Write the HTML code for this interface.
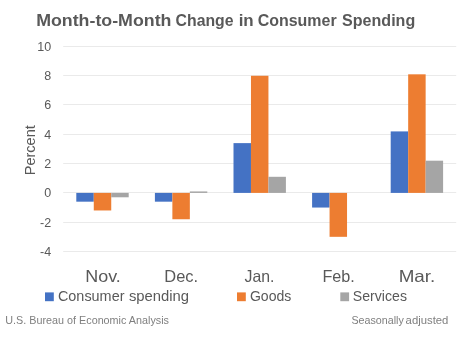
<!DOCTYPE html>
<html><head><meta charset="utf-8"><style>
html,body{margin:0;padding:0;background:#fff;}
svg{display:block;}
text{font-family:"Liberation Sans",sans-serif;}
</style></head><body>
<svg width="458" height="344" viewBox="0 0 458 344">
<rect width="458" height="344" fill="#fff"/>
<rect x="63.20" y="46" width="393.00" height="1" fill="#EAEAEA"/>
<rect x="63.20" y="75" width="393.00" height="1" fill="#EAEAEA"/>
<rect x="63.20" y="104" width="393.00" height="1" fill="#EAEAEA"/>
<rect x="63.20" y="134" width="393.00" height="1" fill="#EAEAEA"/>
<rect x="63.20" y="163" width="393.00" height="1" fill="#EAEAEA"/>
<rect x="63.20" y="192" width="393.00" height="1" fill="#EAEAEA"/>
<rect x="63.20" y="222" width="393.00" height="1" fill="#EAEAEA"/>
<rect x="63.20" y="251" width="393.00" height="1" fill="#EAEAEA"/>

<rect x="76.30" y="192.90" width="17.47" height="8.78" fill="#4472C4"/>
<rect x="93.77" y="192.90" width="17.47" height="17.57" fill="#ED7D31"/>
<rect x="111.23" y="192.90" width="17.47" height="4.39" fill="#A5A5A5"/>
<rect x="154.90" y="192.90" width="17.47" height="8.78" fill="#4472C4"/>
<rect x="172.37" y="192.90" width="17.47" height="26.35" fill="#ED7D31"/>
<rect x="189.83" y="191.44" width="17.47" height="1.46" fill="#A5A5A5"/>
<rect x="233.50" y="143.12" width="17.47" height="49.78" fill="#4472C4"/>
<rect x="250.97" y="75.78" width="17.47" height="117.12" fill="#ED7D31"/>
<rect x="268.43" y="176.80" width="17.47" height="16.10" fill="#A5A5A5"/>
<rect x="312.10" y="192.90" width="17.47" height="14.64" fill="#4472C4"/>
<rect x="329.57" y="192.90" width="17.47" height="43.92" fill="#ED7D31"/>
<rect x="390.70" y="131.41" width="17.47" height="61.49" fill="#4472C4"/>
<rect x="408.17" y="74.32" width="17.47" height="118.58" fill="#ED7D31"/>
<rect x="425.63" y="160.69" width="17.47" height="32.21" fill="#A5A5A5"/>
<rect x="45" y="292.4" width="8.8" height="8.8" fill="#4472C4"/>
<rect x="237" y="292.4" width="8.8" height="8.8" fill="#ED7D31"/>
<rect x="340.3" y="292.4" width="8.8" height="8.8" fill="#A5A5A5"/>
<g style="filter:grayscale(1)">
<g transform="translate(0,0)">
<text x="36.15" y="26.00" font-size="17" fill="#595959" textLength="135.28" lengthAdjust="spacingAndGlyphs" font-weight="bold">Month-to-Month</text>
<text x="175.58" y="26.00" font-size="17" fill="#595959" textLength="57.94" lengthAdjust="spacingAndGlyphs" font-weight="bold">Change</text>
<text x="238.65" y="26.00" font-size="17" fill="#595959" textLength="15.05" lengthAdjust="spacingAndGlyphs" font-weight="bold">in</text>
<text x="257.72" y="26.00" font-size="17" fill="#595959" textLength="78.91" lengthAdjust="spacingAndGlyphs" font-weight="bold">Consumer</text>
<text x="342.08" y="26.00" font-size="17" fill="#595959" textLength="73.16" lengthAdjust="spacingAndGlyphs" font-weight="bold">Spending</text>
</g>
<text x="51.1" y="50.80" font-size="12.5" fill="#595959" text-anchor="end">10</text>
<text x="51.1" y="79.80" font-size="12.5" fill="#595959" text-anchor="end">8</text>
<text x="51.1" y="108.80" font-size="12.5" fill="#595959" text-anchor="end">6</text>
<text x="51.1" y="138.80" font-size="12.5" fill="#595959" text-anchor="end">4</text>
<text x="51.1" y="167.80" font-size="12.5" fill="#595959" text-anchor="end">2</text>
<text x="51.1" y="196.80" font-size="12.5" fill="#595959" text-anchor="end">0</text>
<text x="51.1" y="226.80" font-size="12.5" fill="#595959" text-anchor="end">-2</text>
<text x="51.1" y="255.80" font-size="12.5" fill="#595959" text-anchor="end">-4</text>
<text transform="translate(34.7,175.3) rotate(-90)" font-size="15" fill="#595959" textLength="50.1" lengthAdjust="spacingAndGlyphs">Percent</text>
<text x="103.04" y="281.60" font-size="16.5" fill="#595959" textLength="35.53" lengthAdjust="spacingAndGlyphs" text-anchor="middle">Nov.</text>
<text x="181.22" y="281.60" font-size="16.5" fill="#595959" textLength="33.83" lengthAdjust="spacingAndGlyphs" text-anchor="middle">Dec.</text>
<text x="259.46" y="281.60" font-size="16.5" fill="#595959" textLength="29.91" lengthAdjust="spacingAndGlyphs" text-anchor="middle">Jan.</text>
<text x="338.62" y="281.60" font-size="16.5" fill="#595959" textLength="32.41" lengthAdjust="spacingAndGlyphs" text-anchor="middle">Feb.</text>
<text x="416.99" y="281.60" font-size="16.5" fill="#595959" textLength="36.60" lengthAdjust="spacingAndGlyphs" text-anchor="middle">Mar.</text>
<text x="57.95" y="301.20" font-size="14.4" fill="#595959" textLength="66.53" lengthAdjust="spacingAndGlyphs">Consumer</text>
<text x="128.92" y="301.20" font-size="14.4" fill="#595959" textLength="60.19" lengthAdjust="spacingAndGlyphs">spending</text>
<text x="249.95" y="301.20" font-size="14.4" fill="#595959" textLength="41.43" lengthAdjust="spacingAndGlyphs">Goods</text>
<text x="352.86" y="301.20" font-size="14.4" fill="#595959" textLength="54.10" lengthAdjust="spacingAndGlyphs">Services</text>
<text x="5.32" y="323.70" font-size="10.8" fill="#7F7F7F" textLength="163.65" lengthAdjust="spacingAndGlyphs">U.S. Bureau of Economic Analysis</text>
<text x="351.44" y="323.80" font-size="10.8" fill="#7F7F7F" textLength="52.40" lengthAdjust="spacingAndGlyphs">Seasonally</text>
<text x="405.63" y="323.80" font-size="10.8" fill="#7F7F7F" textLength="42.77" lengthAdjust="spacingAndGlyphs">adjusted</text>
</g>
</svg>
</body></html>
